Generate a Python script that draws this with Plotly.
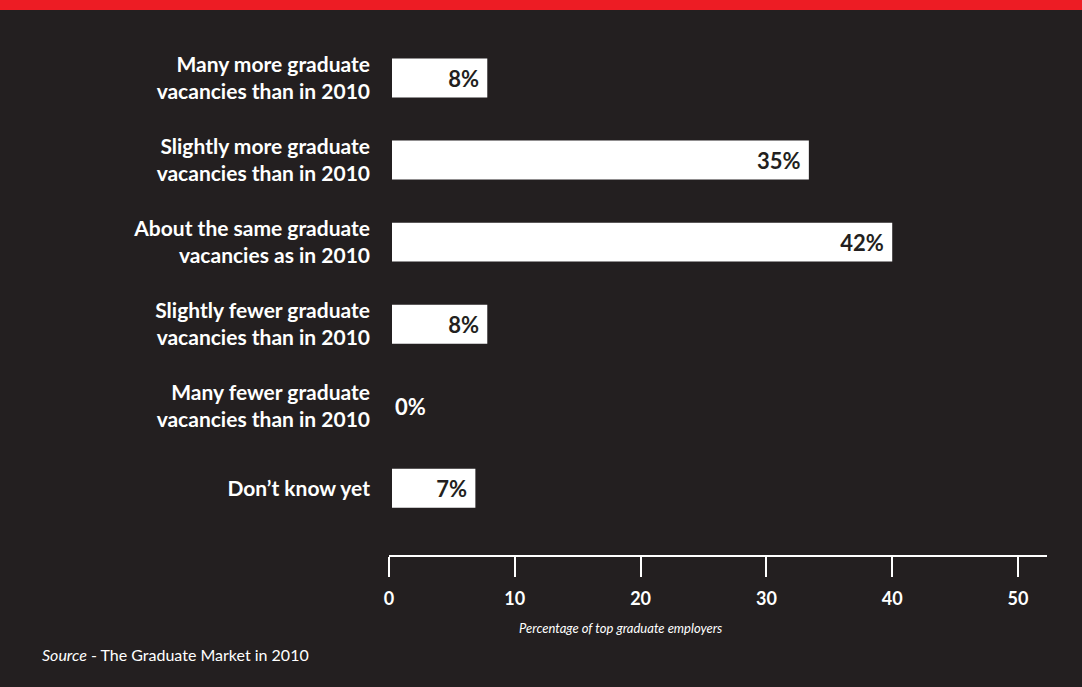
import plotly.graph_objects as go

categories = [
    "Many more graduate<br>vacancies than in 2010",
    "Slightly more graduate<br>vacancies than in 2010",
    "About the same graduate<br>vacancies as in 2010",
    "Slightly fewer graduate<br>vacancies than in 2010",
    "Many fewer graduate<br>vacancies than in 2010",
    "Don\u2019t know yet",
]
values = [8, 35, 42, 8, 0, 7]
tick_vals = [0, 10, 20, 30, 40, 50]
tick_labels = ["0", "10", "20", "30", "40", "50"]
x_title = "<i>Percentage of top graduate employers</i>"
source = "<i>Source</i> - The Graduate Market in 2010"

BG = "#231f20"
RED = "#ed1c24"
FONT = "Lato, 'Open Sans', sans-serif"

W, H = 1082, 687
L, R, T, B = 389, 35, 37, 132
ph = H - T - B

fig = go.Figure()
fig.add_trace(go.Bar(
    x=values,
    y=list(range(len(categories))),
    orientation="h",
    xaxis="x2",
    yaxis="y",
    marker=dict(color="white", line=dict(width=0)),
    width=0.475,
    text=[f"{v}%" + ("" if v == 0 else "\u00a0") for v in values],
    textposition=["outside" if v == 0 else "inside" for v in values],
    insidetextanchor="end",
    insidetextfont=dict(family=FONT, size=22, color=BG, weight="bold"),
    outsidetextfont=dict(family=FONT, size=22, color="white", weight="bold"),
    constraintext="none",
    cliponaxis=False,
    hoverinfo="skip",
))
# invisible trace to carry the visible tick axis
fig.add_trace(go.Scatter(x=[0], y=[0], xaxis="x", yaxis="y", mode="markers",
                         marker=dict(opacity=0), hoverinfo="skip", showlegend=False))

fig.update_layout(
    width=W, height=H,
    margin=dict(l=L, r=R, t=T, b=B, pad=0),
    paper_bgcolor=BG, plot_bgcolor=BG,
    showlegend=False,
    font=dict(family=FONT, color="white"),
    xaxis=dict(
        range=[0, (W - L - R) / 12.58],
        tickvals=tick_vals, ticktext=tick_labels,
        ticks="outside", ticklen=20, tickwidth=2, tickcolor="white",
        showline=True, linewidth=2, linecolor="white",
        showgrid=False, zeroline=False,
        tickfont=dict(family=FONT, size=18, color="white", weight="bold"),
        ticklabelstandoff=6,
        fixedrange=True,
    ),
    xaxis2=dict(
        range=[-3 / 11.91, (W - L - R - 3) / 11.91],
        overlaying="x", visible=False, showgrid=False, zeroline=False,
    ),
    yaxis=dict(
        range=[len(categories) - 0.5 + 0.313, -0.5],
        tickvals=list(range(len(categories))), ticktext=categories,
        showgrid=False, zeroline=False, showline=False, ticks="",
        tickfont=dict(family=FONT, size=21, color="white", weight="bold"),
        ticklabelstandoff=18,
    ),
    shapes=[dict(type="rect", xref="paper", yref="paper",
                 x0=-L / (W - L - R), x1=1 + R / (W - L - R),
                 y0=1 + (T - 10) / ph, y1=1 + T / ph,
                 fillcolor=RED, line=dict(width=0), layer="above")],
    annotations=[
        dict(text=x_title, xref="paper", yref="paper",
             x=(620 - L) / (W - L - R), y=-(628 - (H - B)) / ph,
             xanchor="center", yanchor="middle", showarrow=False,
             font=dict(family=FONT, size=13, color="white")),
        dict(text=source, xref="paper", yref="paper",
             x=-(L - 40) / (W - L - R), y=-(654 - (H - B)) / ph,
             xanchor="left", yanchor="middle", showarrow=False,
             font=dict(family=FONT, size=16, color="white")),
    ],
)

fig.write_html("out.html", config={"displayModeBar": False},
               post_script="document.body.style.margin='0';")
